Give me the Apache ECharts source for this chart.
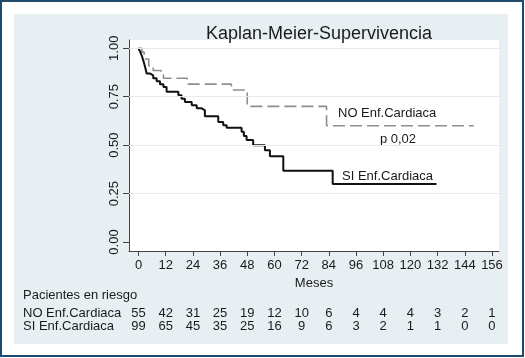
<!DOCTYPE html>
<html>
<head>
<meta charset="utf-8">
<script src="https://cdn.jsdelivr.net/npm/echarts@6/dist/echarts.min.js"></script>
<style>
html,body{margin:0;padding:0;background:#fff;}
#chart{width:525px;height:358px;}
</style>
</head>
<body>
<div id="chart"></div>
<script>
// ---- data ----
const titleText = 'Kaplan-Meier-Supervivencia';
const xTicks = [0, 12, 24, 36, 48, 60, 72, 84, 96, 108, 120, 132, 144, 156];
const yTicks = [0, 0.25, 0.5, 0.75, 1];
const gridValues = [0.25, 0.5, 0.75, 1];

const noName = 'NO Enf.Cardiaca';
const siName = 'SI Enf.Cardiaca';
const noTime = [0, 1.5, 2.5, 4.5, 6.5, 10, 11, 21.5, 41, 48, 83, 148];
const noSurv = [1, 0.98, 0.945, 0.91, 0.885, 0.865, 0.845, 0.815, 0.785, 0.70, 0.60, 0.60];

const siTime = [0, 0.8, 1.5, 2.3, 3.0, 3.6, 5.0, 6.5, 8.0, 9.5, 11.0, 12.4, 17.6, 19.0, 20.5, 23.5, 25.7, 27.9, 29.3, 35.2, 37.4, 38.9, 45.5, 46.5, 47.7, 50.6, 55.8, 58.0, 63.9, 85.7, 131.5];
const siSurv = [1, 0.98, 0.96, 0.93, 0.90, 0.87, 0.86, 0.845, 0.83, 0.815, 0.80, 0.775, 0.758, 0.74, 0.723, 0.706, 0.69, 0.68, 0.649, 0.62, 0.603, 0.59, 0.569, 0.547, 0.526, 0.50, 0.474, 0.443, 0.368, 0.30, 0.30];

const riskTitle = 'Pacientes en riesgo';
const noRisk = [55, 42, 31, 25, 19, 12, 10, 6, 4, 4, 4, 3, 2, 1];
const siRisk = [99, 65, 45, 35, 25, 16, 9, 6, 3, 2, 1, 1, 0, 0];
const pText = 'p 0,02';
const xName = 'Meses';

// ---- chart ----
const FONT = 'Liberation Sans, Arial, sans-serif';
const chart = echarts.init(document.getElementById('chart'), null, {renderer: 'canvas'});
const X_MIN = -4.19, X_MAX = 159.1, Y_MIN = -0.0465, Y_MAX = 1.0428;

function riskAxis(values, offset) {
  return {
    type: 'value', min: X_MIN, max: X_MAX, position: 'bottom', offset: offset,
    axisLine: {show: false, onZero: false}, axisTick: {show: false}, splitLine: {show: false},
    axisLabel: {
      customValues: xTicks, margin: 8, color: '#1a1a1a', fontSize: 13, fontFamily: FONT,
      formatter: v => { const i = xTicks.indexOf(v); return i >= 0 ? String(values[i]) : ''; }
    }
  };
}

const option = {
  animation: false,
  title: {
    text: titleText, left: 314, top: 20, textAlign: 'center',
    textStyle: {fontFamily: FONT, fontSize: 18, fontWeight: 'normal', color: '#1a1a1a'}
  },
  grid: {left: 129, top: 40, width: 370, height: 211, show: true, backgroundColor: '#ffffff', borderWidth: 0, containLabel: false},
  xAxis: [
    {
      type: 'value', min: X_MIN, max: X_MAX,
      name: xName, nameLocation: 'middle', nameGap: 22,
      nameTextStyle: {fontFamily: FONT, fontSize: 13, color: '#1a1a1a'},
      axisLine: {show: true, onZero: false, lineStyle: {color: '#444', width: 1}},
      axisTick: {show: true, customValues: xTicks, length: 5, lineStyle: {color: '#444'}},
      axisLabel: {customValues: xTicks, margin: 8, color: '#1a1a1a', fontSize: 13, fontFamily: FONT},
      splitLine: {show: false}
    },
    riskAxis(noRisk, 48),
    riskAxis(siRisk, 61)
  ],
  yAxis: {
    type: 'value', min: Y_MIN, max: Y_MAX,
    axisLine: {show: true, onZero: false, lineStyle: {color: '#444', width: 1}},
    axisTick: {show: true, customValues: yTicks, length: 6, lineStyle: {color: '#444'}},
    axisLabel: {customValues: yTicks, rotate: 90, margin: 8, color: '#1a1a1a', fontSize: 13, fontFamily: FONT,
      formatter: v => v.toFixed(2)},
    splitLine: {show: false}
  },
  series: [
    {
      type: 'line', name: 'grid', data: [], silent: true,
      markLine: {
        silent: true, symbol: 'none', label: {show: false},
        lineStyle: {color: '#e3ebf0', width: 1, type: 'solid'},
        data: gridValues.map(v => ({yAxis: v}))
      }
    },
    {
      type: 'line', name: noName, step: 'end', showSymbol: false, symbol: 'none',
      data: noTime.map((t, i) => [t, noSurv[i]]),
      lineStyle: {color: '#8e8e8e', width: 1.6, type: [12, 5]}, z: 3
    },
    {
      type: 'line', name: siName, step: 'end', showSymbol: false, symbol: 'none',
      data: siTime.map((t, i) => [t, siSurv[i]]),
      lineStyle: {color: '#111111', width: 2}, z: 4
    }
  ],
  graphic: [
    {type: 'rect', z: -100, shape: {x: 1, y: 1, width: 522, height: 355},
      style: {fill: '#ffffff', stroke: '#1f4a6b', lineWidth: 2}},
    {type: 'rect', z: -99, shape: {x: 14, y: 14, width: 494, height: 330},
      style: {fill: '#e8eff3'}},
    {type: 'text', x: 338, y: 113, style: {text: noName, fill: '#1a1a1a', font: '13px ' + FONT, verticalAlign: 'middle', textVerticalAlign: 'middle'}},
    {type: 'text', x: 398, y: 139, style: {text: pText, fill: '#1a1a1a', font: '13px ' + FONT, align: 'center', textAlign: 'center', verticalAlign: 'middle', textVerticalAlign: 'middle'}},
    {type: 'text', x: 342, y: 176, style: {text: siName, fill: '#1a1a1a', font: '13px ' + FONT, verticalAlign: 'middle', textVerticalAlign: 'middle'}},
    {type: 'text', x: 23, y: 295, style: {text: riskTitle, fill: '#1a1a1a', font: '13px ' + FONT, verticalAlign: 'middle', textVerticalAlign: 'middle'}},
    {type: 'text', x: 23, y: 313, style: {text: noName, fill: '#1a1a1a', font: '13px ' + FONT, verticalAlign: 'middle', textVerticalAlign: 'middle'}},
    {type: 'text', x: 23, y: 326, style: {text: siName, fill: '#1a1a1a', font: '13px ' + FONT, verticalAlign: 'middle', textVerticalAlign: 'middle'}}
  ]
};
chart.setOption(option);
</script>
</body>
</html>
